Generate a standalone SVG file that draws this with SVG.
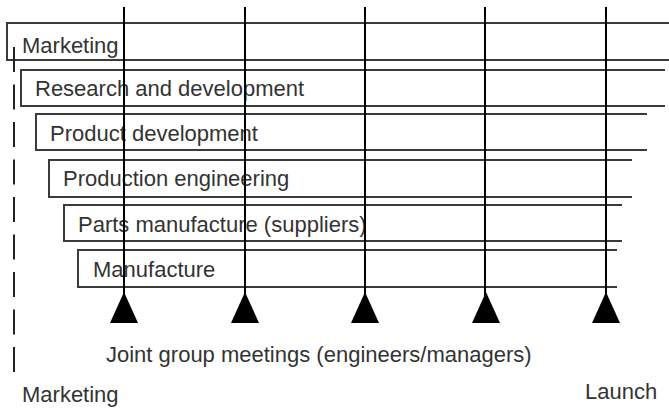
<svg xmlns="http://www.w3.org/2000/svg" width="669" height="409" viewBox="0 0 669 409">
<style>
.box{fill:none;stroke:#3a3a3a;stroke-width:2}
.lbl{font-family:"Liberation Sans",Arial,sans-serif;font-size:22px;fill:#333}
.vl{stroke:#000;stroke-width:2;fill:none}
.tri{fill:#000}
.dash{stroke:#222;stroke-width:2;stroke-dasharray:25 12.5;fill:none}
</style>
<rect width="669" height="409" fill="#fff"/>
<g id="marketing">
<polyline class="box" points="680,23 7,23 7,60 680,60"/>
<text class="lbl" x="22" y="53">Marketing</text>
</g>
<g id="research">
<polyline class="box" points="665,70 21,70 21,106 665,106"/>
<text class="lbl" x="35" y="96">Research and development</text>
</g>
<g id="product-development">
<polyline class="box" points="647,114 36,114 36,150 647,150"/>
<text class="lbl" x="50" y="141">Product development</text>
</g>
<g id="production-engineering">
<polyline class="box" points="632,160 49,160 49,197 632,197"/>
<text class="lbl" x="63" y="186">Production engineering</text>
</g>
<g id="parts-manufacture">
<polyline class="box" points="622,205 64,205 64,241 622,241"/>
<text class="lbl" x="78" y="232">Parts manufacture (suppliers)</text>
</g>
<g id="manufacture">
<polyline class="box" points="617,250 78,250 78,287 617,287"/>
<text class="lbl" x="93" y="277">Manufacture</text>
</g>
<g id="timeline">
<line class="dash" x1="14" y1="47" x2="14" y2="373"/>
</g>
<g id="connectors">
<line class="vl" x1="124" y1="7" x2="124" y2="296"/>
<line class="vl" x1="245" y1="7" x2="245" y2="296"/>
<line class="vl" x1="365" y1="7" x2="365" y2="296"/>
<line class="vl" x1="485" y1="7" x2="485" y2="296"/>
<line class="vl" x1="606" y1="7" x2="606" y2="296"/>
<polygon class="tri" points="124,292 110,323 138,323"/>
<polygon class="tri" points="245,292 231,323 259,323"/>
<polygon class="tri" points="365,292 351,323 379,323"/>
<polygon class="tri" points="486,292 472,323 500,323"/>
<polygon class="tri" points="606,292 592,323 620,323"/>
</g>
<g id="meetings">
<text class="lbl" x="106" y="362">Joint group meetings (engineers/managers)</text>
</g>
<g id="start">
<text class="lbl" x="22" y="402">Marketing</text>
</g>
<g id="launch">
<text class="lbl" x="585" y="399">Launch</text>
</g>
</svg>
